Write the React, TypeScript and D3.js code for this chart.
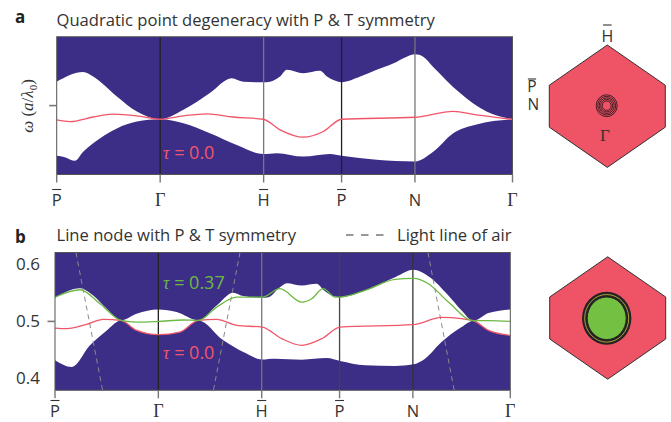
import * as d3 from 'd3';

// path coordinate along P-G-H-P-N-G, normalised 0..1
const kTicks = [0, 0.227, 0.454, 0.625, 0.786, 1];
const kNames = ['P', 'Γ', 'H', 'P', 'N', 'Γ'];
const kBars = [true, false, true, true, false, false];
const kSerif = [false, true, false, false, false, true];

const yTicksB = [0.4, 0.5, 0.6];

// panel a: quadratic point degeneracy (k, omega)
const upperA: [number, number][] = [
  [0, 0.542], [0.058, 0.559], [0.08, 0.551], [0.132, 0.516], [0.176, 0.4895], [0.227, 0.476],
  [0.278, 0.4925], [0.336, 0.522], [0.384, 0.548], [0.409, 0.542], [0.453, 0.541], [0.468, 0.542],
  [0.49, 0.551], [0.505, 0.563], [0.541, 0.557], [0.578, 0.561], [0.593, 0.551], [0.607, 0.545],
  [0.625, 0.541], [0.666, 0.551], [0.702, 0.563], [0.738, 0.574], [0.768, 0.586], [0.786, 0.59],
  [0.804, 0.586], [0.826, 0.568], [0.885, 0.522], [0.943, 0.4895], [1, 0.476],
];
const lowerA: [number, number][] = [
  [0, 0.412], [0.018, 0.4095], [0.04, 0.403], [0.058, 0.419], [0.08, 0.434], [0.132, 0.46],
  [0.176, 0.472], [0.227, 0.476], [0.278, 0.469], [0.336, 0.4516], [0.395, 0.431], [0.453, 0.415],
  [0.483, 0.4165], [0.541, 0.4105], [0.6, 0.415], [0.625, 0.412], [0.702, 0.405], [0.786, 0.402],
  [0.826, 0.419], [0.87, 0.4516], [0.921, 0.467], [1, 0.476],
];
const redA: [number, number][] = [
  [0, 0.475], [0.029, 0.472], [0.08, 0.48], [0.124, 0.485], [0.176, 0.482], [0.227, 0.476],
  [0.278, 0.482], [0.329, 0.4855], [0.387, 0.48], [0.453, 0.476], [0.49, 0.4575], [0.541, 0.4445],
  [0.585, 0.4545], [0.625, 0.476], [0.786, 0.4795], [0.87, 0.49], [0.921, 0.4837], [1, 0.476],
];

// panel b: line node
const upperB: [number, number][] = [
  [0, 0.5416], [0.055, 0.5584], [0.084, 0.5456], [0.1136, 0.5223], [0.145, 0.5018], [0.1794, 0.5135],
  [0.227, 0.521], [0.267, 0.5163], [0.315, 0.5018], [0.355, 0.528], [0.3916, 0.5504], [0.4136, 0.5444],
  [0.455, 0.5416], [0.4685, 0.5426], [0.494, 0.56], [0.509, 0.567], [0.542, 0.563], [0.575, 0.566],
  [0.589, 0.5556], [0.608, 0.5456], [0.626, 0.5426], [0.681, 0.5544], [0.747, 0.5777], [0.787, 0.5907],
  [0.82, 0.5795], [0.864, 0.5456], [0.893, 0.5193], [0.919, 0.5012], [0.952, 0.5146], [1, 0.521],
];
const lowerB: [number, number][] = [
  [0, 0.4316], [0.0367, 0.4198], [0.0769, 0.4579], [0.1136, 0.4842], [0.145, 0.5018], [0.1794, 0.4842],
  [0.227, 0.4767], [0.2745, 0.4812], [0.315, 0.5018], [0.3697, 0.4667], [0.4136, 0.4461], [0.455, 0.4333],
  [0.483, 0.4346], [0.542, 0.4328], [0.597, 0.4356], [0.626, 0.4304], [0.681, 0.4228], [0.747, 0.4216],
  [0.787, 0.4246], [0.8127, 0.4346], [0.849, 0.4637], [0.893, 0.49], [0.919, 0.5012], [0.952, 0.4842],
  [1, 0.4754],
];
const greenB: [number, number][] = [
  [0, 0.5426], [0.055, 0.5556], [0.0988, 0.531], [0.145, 0.5018], [0.1794, 0.4988], [0.227, 0.5],
  [0.2818, 0.5025], [0.315, 0.5018], [0.355, 0.525], [0.399, 0.5426], [0.455, 0.5426], [0.494, 0.5574],
  [0.542, 0.5339], [0.564, 0.5398], [0.589, 0.5574], [0.615, 0.5426], [0.626, 0.5426], [0.681, 0.5544],
  [0.747, 0.5737], [0.787, 0.5754], [0.82, 0.5661], [0.864, 0.5339], [0.919, 0.5012], [0.952, 0.5012],
  [1, 0.5],
];
const redB: [number, number][] = [
  [0, 0.4882], [0.0257, 0.4872], [0.0696, 0.4947], [0.106, 0.5035], [0.145, 0.5018], [0.1794, 0.4842],
  [0.227, 0.4767], [0.2745, 0.4812], [0.315, 0.5018], [0.355, 0.5035], [0.399, 0.493], [0.455, 0.49],
  [0.498, 0.4696], [0.542, 0.4579], [0.586, 0.4696], [0.626, 0.49], [0.787, 0.4942], [0.849, 0.507],
  [0.893, 0.5047], [0.919, 0.5012], [0.952, 0.4842], [1, 0.4754],
];
// light lines of air (start, end)
const lightLines: [number, number][][] = [
  [[0.046, 0.621], [0.1048, 0.378]],
  [[0.4063, 0.621], [0.3477, 0.378]],
  [[0.8192, 0.621], [0.877, 0.378]],
];

// Fermi-arc contours around Gamma in the surface BZ (radii, px)
const ringRadiiA = [4.5, 6, 7.5, 9, 10.5];

const PURPLE = '#3c2e87';
const RED = '#f05669';
const GREEN = '#6cb942';
const HEX = '#ef5366';
const TEXT = '#333';
const SANS = "'Open Sans', sans-serif";
const SERIF = "'Liberation Serif', serif";
const yDomain: [number, number] = [0.379, 0.621];

type Pt = [number, number];

function Panel({ id, left, right, top, bottom, upper, lower, lines, light, lineColors, labelY }: {
  id: string; left: number; right: number; top: number; bottom: number;
  upper: Pt[]; lower: Pt[]; lines: { data: Pt[]; color: string }[]; light: Pt[][];
  lineColors: string[]; labelY: number;
}) {
  const x = d3.scaleLinear().domain([0, 1]).range([left, right]);
  const y = d3.scaleLinear().domain(yDomain).range([bottom, top]);
  const area = d3.area<Pt>().x(d => x(d[0])).y0(bottom).y1(d => y(d[1])).curve(d3.curveMonotoneX);
  const line = d3.line<Pt>().x(d => x(d[0])).y(d => y(d[1])).curve(d3.curveMonotoneX);
  const straight = d3.line<Pt>().x(d => x(d[0])).y(d => y(d[1]));
  return (
    <g>
      <defs>
        <clipPath id={`clip-${id}`}>
          <rect x={left} y={top} width={right - left} height={bottom - top} />
        </clipPath>
      </defs>
      <g clipPath={`url(#clip-${id})`}>
        <rect x={left} y={top} width={right - left} height={bottom - top} fill={PURPLE} />
        <path d={area(upper) ?? ''} fill="#fff" />
        <path d={area(lower) ?? ''} fill={PURPLE} />
        {kTicks.slice(1, 5).map((k, i) => (
          <line key={i} x1={x(k)} x2={x(k)} y1={top} y2={bottom} stroke={lineColors[i]} strokeWidth={1.3} />
        ))}
        {light.map((l, i) => (
          <path key={i} d={straight(l) ?? ''} fill="none" stroke="#8a8a8a" strokeWidth={1} strokeDasharray="5,4" />
        ))}
        {lines.map((l, i) => (
          <path key={i} d={line(l.data) ?? ''} fill="none" stroke={l.color} strokeWidth={1.3} />
        ))}
      </g>
      <rect x={left} y={top} width={right - left} height={bottom - top} fill="none" stroke="#555" strokeWidth={1} />
      <line x1={left - 7.5} x2={left} y1={y(0.5)} y2={y(0.5)} stroke="#777" strokeWidth={1.6} />
      {kTicks.map((k, i) => (
        <g key={i}>
          <line x1={x(k)} x2={x(k)} y1={bottom} y2={bottom + 8} stroke="#777" strokeWidth={1.4} />
          <text x={x(k)} y={labelY} textAnchor="middle" fontFamily={kSerif[i] ? SERIF : SANS}
            fontSize={kSerif[i] ? 18 : 16.5} fill={TEXT}>{kNames[i]}</text>
          {kBars[i] && (
            <line x1={x(k) - 4.5} x2={x(k) + 4.5} y1={labelY - 16.5} y2={labelY - 16.5} stroke={TEXT} strokeWidth={1.1} />
          )}
        </g>
      ))}
    </g>
  );
}

function Hexagon({ cx, cy, children }: { cx: number; cy: number; children?: any }) {
  const hw = 58, hh = 61.2, hs = 21;
  const pts: Pt[] = [[cx, cy - hh], [cx + hw, cy - hs], [cx + hw, cy + hs], [cx, cy + hh], [cx - hw, cy + hs], [cx - hw, cy - hs]];
  return (
    <g>
      <polygon points={pts.map(p => p.join(',')).join(' ')} fill={HEX} stroke="#333" strokeWidth={1} />
      {children}
    </g>
  );
}

export default function App() {
  const yB = d3.scaleLinear().domain(yDomain).range([390.3, 252.5]);
  return (
    <svg width={671} height={422} style={{ position: 'absolute', left: 0, top: 0, background: '#fff' }}>
      {/* panel a */}
      <text x={15} y={23} fontFamily={SANS} fontWeight={700} fontSize={17} fill="#222">a</text>
      <text x={56.5} y={26} fontFamily={SANS} fontSize={16.6} fill={TEXT}>Quadratic point degeneracy with P &amp; T symmetry</text>
      <text transform="translate(33,106) rotate(-90)" textAnchor="middle" fontFamily={SERIF} fontSize={17} fill={TEXT}>
        <tspan fontStyle="italic">ω</tspan> (<tspan fontStyle="italic">a</tspan>/<tspan fontStyle="italic">λ</tspan>
        <tspan fontSize={11} dy={4}>0</tspan><tspan dy={-4}>)</tspan>
      </text>
      <Panel id="a" left={56.7} right={512.5} top={36.7} bottom={174.5} upper={upperA} lower={lowerA}
        lines={[{ data: redA, color: RED }]} light={[]} lineColors={['#222', '#777', '#222', '#777']} labelY={206} />
      <text x={163} y={158.5} fontSize={18} fill={RED}>
        <tspan fontFamily={SERIF} fontStyle="italic">τ</tspan><tspan fontFamily={SANS}> = 0.0</tspan>
      </text>
      <Hexagon cx={607.3} cy={106.2}>
        {ringRadiiA.map((r, i) => (
          <ellipse key={i} cx={606.7} cy={105.7} rx={r} ry={r * 1.04} fill="none" stroke="#2a1a1e" strokeWidth={0.9} />
        ))}
      </Hexagon>
      <text x={607.3} y={42} textAnchor="middle" fontFamily={SANS} fontSize={16} fill={TEXT}>H</text>
      <line x1={603} x2={611.6} y1={25} y2={25} stroke={TEXT} strokeWidth={1.1} />
      <text textAnchor="middle" fontFamily={SANS} fontSize={15.5} fill={TEXT}>
        <tspan x={532} y={92}>P</tspan>
        <tspan x={533.3} y={109.5}>N</tspan>
      </text>
      <line x1={527.9} x2={536.1} y1={79} y2={79} stroke={TEXT} strokeWidth={1.1} />
      <text x={605} y={140.5} textAnchor="middle" fontFamily={SERIF} fontSize={17} fill={TEXT}>Γ</text>

      {/* panel b */}
      <text x={15} y={242.5} fontFamily={SANS} fontWeight={700} fontSize={17} fill="#222">b</text>
      <text x={56.5} y={241} fontFamily={SANS} fontSize={16.6} fill={TEXT}>Line node with P &amp; T symmetry</text>
      <line x1={346} x2={388} y1={235} y2={235} stroke={TEXT} strokeWidth={1.2} strokeDasharray="7.5,7.5" />
      <text x={397} y={241} fontFamily={SANS} fontSize={16.6} fill={TEXT}>Light line of air</text>
      {yTicksB.map(t => (
        <text key={t} x={40} y={yB(t) + 6} textAnchor="end" fontFamily={SANS} fontSize={17} fill={TEXT}>{t.toFixed(1)}</text>
      ))}
      <Panel id="b" left={55} right={510.3} top={252.5} bottom={390.3} upper={upperB} lower={lowerB}
        lines={[{ data: redB, color: RED }, { data: greenB, color: GREEN }]} light={lightLines}
        lineColors={['#222', '#777', '#444', '#333']} labelY={417} />
      <text x={163} y={289} fontSize={18} fill={GREEN}>
        <tspan fontFamily={SERIF} fontStyle="italic">τ</tspan><tspan fontFamily={SANS}> = 0.37</tspan>
      </text>
      <text x={163} y={359} fontSize={18} fill={RED}>
        <tspan fontFamily={SERIF} fontStyle="italic">τ</tspan><tspan fontFamily={SANS}> = 0.0</tspan>
      </text>
      <Hexagon cx={607.7} cy={318}>
        <ellipse cx={606.7} cy={318.3} rx={24.7} ry={26.5} fill="#262224" />
        <ellipse cx={606.7} cy={318.3} rx={22} ry={23.8} fill="none" stroke="#c9c23a" strokeWidth={0.8} />
        <ellipse cx={606.7} cy={318.3} rx={19.5} ry={21.3} fill="#74c043" stroke="#222" strokeWidth={1} />
      </Hexagon>
    </svg>
  );
}
